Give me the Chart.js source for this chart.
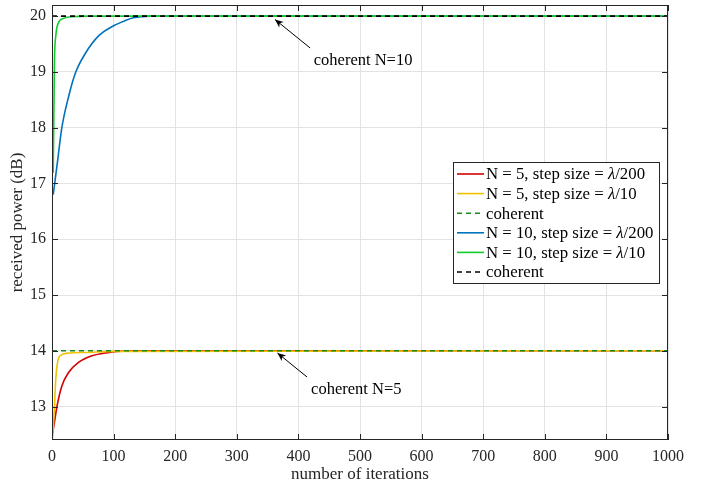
<!DOCTYPE html>
<html>
<head>
<meta charset="utf-8">
<script src="https://cdn.jsdelivr.net/npm/chart.js@4.4.1/dist/chart.umd.min.js"></script>
<style>
  html, body { margin: 0; padding: 0; background: #fff; }
  #wrap { width: 702px; height: 487px; }
</style>
</head>
<body>
<div id="wrap"><canvas id="chart" width="702" height="487"></canvas></div>
<script>
// values
const redIter = [1, 4, 8, 16, 27, 43, 65, 86, 105, 150, 1000];
const redPower = [12.52, 12.72, 13.0, 13.37, 13.61, 13.79, 13.91, 13.96, 13.99, 14.0, 14.0];

const yellowIter = [1, 4, 6, 9, 13, 27, 55, 100, 1000];
const yellowPower = [12.44, 13.0, 13.48, 13.79, 13.91, 13.96, 13.97, 13.99, 14.0];

const blueIter = [2, 8, 16, 27, 38, 54, 76, 97, 119, 132, 160, 200, 1000];
const bluePower = [16.8, 17.31, 18.0, 18.56, 18.98, 19.33, 19.65, 19.81, 19.92, 19.97, 20.0, 20.0, 20.0];

const greenIter = [2, 4, 6, 10, 19, 32, 60, 1000];
const greenPower = [17.19, 19.2, 19.63, 19.87, 19.96, 19.99, 20.0, 20.0];

const coherentIter = [0, 1000];
const coherent5 = [14, 14];
const coherent10 = [20, 20];

const xTicks = [0, 100, 200, 300, 400, 500, 600, 700, 800, 900, 1000];
const yTicks = [13, 14, 15, 16, 17, 18, 19, 20];

const labels = [
  ["N = 5, step size = ", "λ", "/200"],
  ["N = 5, step size = ", "λ", "/10"],
  ["coherent"],
  ["N = 10, step size = ", "λ", "/200"],
  ["N = 10, step size = ", "λ", "/10"],
  ["coherent"]
];

// annotation: text, text position, arrow tail and tip (data coords)
const notes = [
  { text: "coherent N=10", tx: 505, ty: 19.21, ax: 419, ay: 19.43, hx: 362, hy: 19.94 },
  { text: "coherent N=5", tx: 494, ty: 13.31, ax: 414, ay: 13.53, hx: 366, hy: 13.96 }
];

const serif = "'Liberation Serif', 'Times New Roman', serif";
const axisColor = "#262626";

function pts(xs, ys) {
  return xs.map((x, i) => ({ x: x, y: ys[i] }));
}

const datasets = [
  { data: pts(redIter, redPower), borderColor: "#d40000", order: 5 },
  { data: pts(yellowIter, yellowPower), borderColor: "#f2c200", order: 4 },
  { data: pts(coherentIter, coherent5), borderColor: "#188a18", borderDash: [5, 4], order: 1 },
  { data: pts(blueIter, bluePower), borderColor: "#0072bd", order: 3 },
  { data: pts(greenIter, greenPower), borderColor: "#12cc2c", order: 2 },
  { data: pts(coherentIter, coherent10), borderColor: "#000000", borderDash: [5, 4], order: 0 }
];
datasets.forEach(d => {
  d.borderWidth = 1.6;
  d.pointRadius = 0;
  d.fill = false;
  d.cubicInterpolationMode = "monotone";
});

// box, inward ticks, legend and annotations
const decor = {
  id: "decor",
  afterDatasetsDraw(chart) {
    const ctx = chart.ctx;
    const a = chart.chartArea;
    const xs = chart.scales.x, ys = chart.scales.y;
    ctx.save();
    ctx.strokeStyle = axisColor;
    ctx.lineWidth = 1;
    ctx.strokeRect(a.left + 0.5, a.top + 0.5, a.right - a.left - 1, a.bottom - a.top - 1);
    ctx.beginPath();
    xTicks.forEach(v => {
      const p = Math.round(xs.getPixelForValue(v)) + 0.5;
      ctx.moveTo(p, a.bottom); ctx.lineTo(p, a.bottom - 6);
      ctx.moveTo(p, a.top); ctx.lineTo(p, a.top + 6);
    });
    yTicks.forEach(v => {
      const p = Math.round(ys.getPixelForValue(v)) + 0.5;
      ctx.moveTo(a.left, p); ctx.lineTo(a.left + 6, p);
      ctx.moveTo(a.right, p); ctx.lineTo(a.right - 6, p);
    });
    ctx.stroke();

    // annotations
    ctx.fillStyle = "#000";
    ctx.strokeStyle = "#000";
    ctx.font = "16.5px " + serif;
    ctx.textAlign = "center";
    ctx.textBaseline = "middle";
    notes.forEach(n => {
      ctx.fillText(n.text, xs.getPixelForValue(n.tx), ys.getPixelForValue(n.ty));
      const x0 = xs.getPixelForValue(n.ax), y0 = ys.getPixelForValue(n.ay);
      const x1 = xs.getPixelForValue(n.hx), y1 = ys.getPixelForValue(n.hy);
      ctx.beginPath();
      ctx.moveTo(x0, y0); ctx.lineTo(x1, y1);
      ctx.stroke();
      const ang = Math.atan2(y1 - y0, x1 - x0);
      ctx.beginPath();
      ctx.moveTo(x1, y1);
      ctx.lineTo(x1 - 9 * Math.cos(ang - 0.4), y1 - 9 * Math.sin(ang - 0.4));
      ctx.lineTo(x1 - 6 * Math.cos(ang), y1 - 6 * Math.sin(ang));
      ctx.lineTo(x1 - 9 * Math.cos(ang + 0.4), y1 - 9 * Math.sin(ang + 0.4));
      ctx.closePath();
      ctx.fill();
    });

    // legend
    const lx = 453, ly = 162, lw = 206, lh = 121;
    ctx.fillStyle = "#fff";
    ctx.fillRect(lx, ly, lw, lh);
    ctx.strokeStyle = axisColor;
    ctx.lineWidth = 1;
    ctx.strokeRect(lx + 0.5, ly + 0.5, lw, lh);
    ctx.textAlign = "left";
    labels.forEach((parts, i) => {
      const y = ly + 12 + i * 19.6;
      const ds = chart.data.datasets[i];
      ctx.strokeStyle = ds.borderColor;
      ctx.lineWidth = 1.6;
      ctx.setLineDash(ds.borderDash || []);
      ctx.beginPath();
      ctx.moveTo(lx + 4, y); ctx.lineTo(lx + 31, y);
      ctx.stroke();
      ctx.setLineDash([]);
      ctx.fillStyle = "#000";
      let x = lx + 33;
      parts.forEach((p, k) => {
        ctx.font = (k === 1 ? "italic " : "") + "16.8px " + serif;
        ctx.fillText(p, x, y + 1);
        x += ctx.measureText(p).width;
      });
    });
    ctx.restore();
  }
};

new Chart(document.getElementById("chart"), {
  type: "line",
  data: { datasets: datasets },
  options: {
    responsive: false,
    animation: false,
    layout: { padding: { top: 5, right: 34, left: 0, bottom: 0 } },
    plugins: { legend: { display: false }, tooltip: { enabled: false } },
    scales: {
      x: {
        type: "linear",
        min: 0,
        max: 1000,
        afterBuildTicks: s => { s.ticks = xTicks.map(v => ({ value: v })); },
        afterFit: s => { s.height = 47; s.paddingLeft = 0; s.paddingRight = 0; },
        grid: { color: "#e3e3e3", drawTicks: false },
        border: { display: false },
        ticks: { color: axisColor, font: { family: serif, size: 16 }, padding: 7, maxRotation: 0, callback: v => String(v) },
        title: { display: true, text: "number of iterations", color: axisColor, font: { family: serif, size: 17 }, padding: { top: 0, bottom: 2 } }
      },
      y: {
        min: 12.4,
        max: 20.2,
        afterBuildTicks: s => { s.ticks = yTicks.map(v => ({ value: v })); },
        afterFit: s => { s.width = 52; s.paddingTop = 0; s.paddingBottom = 0; },
        grid: { color: "#e3e3e3", drawTicks: false },
        border: { display: false },
        ticks: { color: axisColor, font: { family: serif, size: 16 }, padding: 6, callback: v => String(v) },
        title: { display: true, text: "received power (dB)", color: axisColor, font: { family: serif, size: 17 }, padding: { top: 7, bottom: 0 } }
      }
    }
  },
  plugins: [decor]
});
</script>
</body>
</html>
